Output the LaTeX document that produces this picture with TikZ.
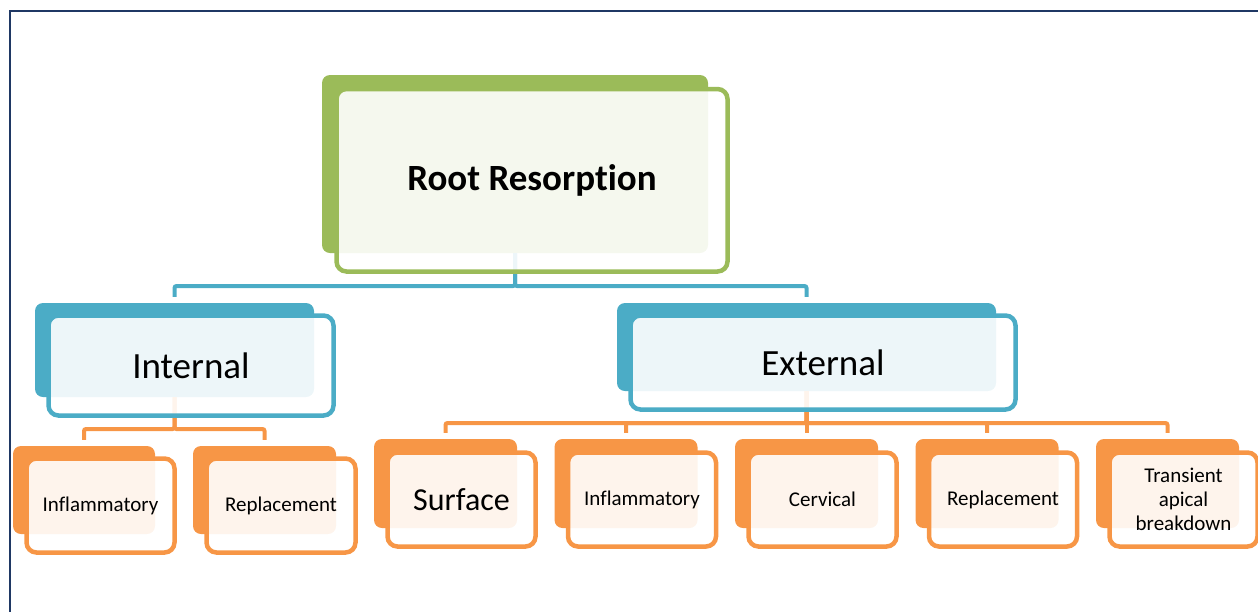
\documentclass[tikz,border=0pt]{standalone}
\usepackage{fontspec}
\setmainfont{Carlito}[Ligatures=NoCommon]
\definecolor{rgreen}{HTML}{9BBB59}
\definecolor{rblue}{HTML}{4BACC6}
\definecolor{rorange}{HTML}{F79646}
\definecolor{rframe}{HTML}{1F3864}
\begin{document}
\begin{tikzpicture}[x=1pt,y=-1pt,
  back/.style={rounded corners=8pt, inner sep=0pt, fill=#1, draw=none},
  front/.style={rounded corners=10pt, inner sep=0pt, draw=#1, line width=4.5pt, fill=white, fill opacity=0.9, text opacity=1, align=center, text=black},
  conn/.style={draw=#1, line width=4pt, rounded corners=2pt},
  small/.style={font=\fontsize{21}{24}\selectfont},
  kid/.style={minimum width=143pt, minimum height=89pt},
  kidf/.style={minimum width=148pt, minimum height=94pt},
]
\useasboundingbox (0,0) rectangle (1258,611);
\draw[rframe, line width=2pt] (9.5,700) -- (9.5,10.5) -- (1300,10.5);

% back shapes
\node[back=rgreen, minimum width=386pt, minimum height=178pt] (rootB) at (515,164) {};
\node[back=rblue, minimum width=279pt, minimum height=94pt] (intB) at (174.5,350) {};
\node[back=rblue, minimum width=379pt, minimum height=88pt] (extB) at (806.5,347) {};
\node[back=rorange, minimum width=142pt, minimum height=88pt] (i1B) at (84,490) {};
\node[back=rorange, minimum width=143pt, minimum height=88pt] (i2B) at (264.5,490) {};
\node[back=rorange, kid] (e1B) at (445.5,483.5) {};
\node[back=rorange, kid] (e2B) at (626,483.5) {};
\node[back=rorange, kid] (e3B) at (806.5,483.5) {};
\node[back=rorange, kid] (e4B) at (987,483.5) {};
\node[back=rorange, kid] (e5B) at (1167.5,483.5) {};

% connectors
\foreach \c in {intB,extB}
  \draw[conn=rblue] (rootB.south) -- (rootB.south |- 0,286) -| ([yshift=6pt]\c.north);
\foreach \c in {i1B,i2B}
  \draw[conn=rorange] (intB.south) -- (intB.south |- 0,429) -| ([yshift=6pt]\c.north);
\foreach \c in {e1B,e2B,e3B,e4B,e5B}
  \draw[conn=rorange] (extB.south) -- (extB.south |- 0,423) -| ([yshift=6pt]\c.north);

% front shapes with text
\node[front=rgreen, minimum width=391pt, minimum height=182.5pt, font=\fontsize{37}{41}\selectfont\bfseries] (root) at (532,180.25) {Root Resorption};
\node[front=rblue, minimum width=285pt, minimum height=100pt, font=\fontsize{37}{42}\selectfont] (int) at (191,365.5) {Internal};
\node[front=rblue, minimum width=385pt, minimum height=94pt, font=\fontsize{37}{42}\selectfont] (ext) at (823,362.5) {External};
\node[front=rorange, minimum width=148pt, minimum height=94pt, small] (i1) at (100.5,505.5) {Inflammatory};
\node[front=rorange, minimum width=149pt, minimum height=94pt, small] (i2) at (281,505.5) {Replacement};
\node[front=rorange, kidf, font=\fontsize{32}{36}\selectfont] (e1) at (461.5,499.5) {Surface};
\node[front=rorange, kidf, small] (e2) at (642,499.5) {Inflammatory};
\node[front=rorange, kidf, small] (e3) at (822.5,499.5) {Cervical};
\node[front=rorange, kidf, small] (e4) at (1003,499.5) {Replacement};
\node[front=rorange, kidf, small] (e5) at (1183.5,499.5) {Transient\\apical\\breakdown};
\end{tikzpicture}
\end{document}
